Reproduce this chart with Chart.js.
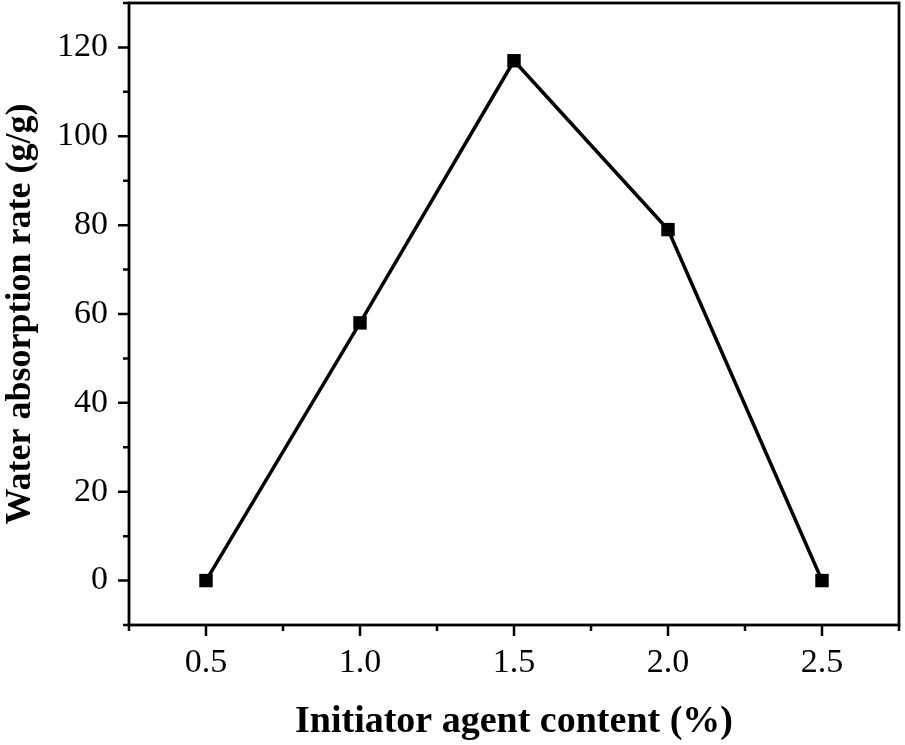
<!DOCTYPE html>
<html>
<head>
<meta charset="utf-8">
<script src="https://cdn.jsdelivr.net/npm/chart.js@4/dist/chart.umd.min.js"></script>
<style>
  body { margin: 0; background: #fff; }
  canvas { display: block; }
</style>
</head>
<body>
<canvas id="absorptionChart" width="905" height="745"></canvas>
<script>
/* data */
const initiatorContent = [0.5, 1.0, 1.5, 2.0, 2.5]
const waterAbsorption = [0, 58, 117, 79, 0]

/* axis ticks */
const xMajorTicks = [0.5, 1.0, 1.5, 2.0, 2.5]
const xMinorTicks = [0.25, 0.75, 1.25, 1.75, 2.25, 2.75]
const yMajorTicks = [0, 20, 40, 60, 80, 100, 120]
const yMinorTicks = [-10, 10, 30, 50, 70, 90, 110, 130]

const serif = 'Liberation Serif'

// frame + outward tick marks, drawn from the scales
const framePlugin = {
    id: 'frame',
    afterDraw: function(chart) {
        const ctx = chart.ctx
        const area = chart.chartArea
        const xs = chart.scales.x
        const ys = chart.scales.y
        ctx.save()
        ctx.strokeStyle = '#000'
        ctx.lineWidth = 2.8
        ctx.strokeRect(area.left, area.top, area.right - area.left, area.bottom - area.top)
        ctx.beginPath()
        ctx.lineWidth = 2.5
        xMajorTicks.forEach(function(v) {
            let px = xs.getPixelForValue(v)
            ctx.moveTo(px, area.bottom)
            ctx.lineTo(px, area.bottom + 11)
        })
        xMinorTicks.forEach(function(v) {
            let px = xs.getPixelForValue(v)
            ctx.moveTo(px, area.bottom)
            ctx.lineTo(px, area.bottom + 6)
        })
        yMajorTicks.forEach(function(v) {
            let py = ys.getPixelForValue(v)
            ctx.moveTo(area.left, py)
            ctx.lineTo(area.left - 11, py)
        })
        yMinorTicks.forEach(function(v) {
            let py = ys.getPixelForValue(v)
            ctx.moveTo(area.left, py)
            ctx.lineTo(area.left - 6, py)
        })
        ctx.stroke()
        ctx.restore()
    }
}

function noPadding(scale) {
    scale.paddingTop = 0
    scale.paddingBottom = 0
    scale.paddingLeft = 0
    scale.paddingRight = 0
}

const ctx = document.getElementById('absorptionChart').getContext('2d')
const myChart = new Chart(ctx, {
    type: 'line',
    data: {
        datasets: [{
            data: initiatorContent.map(function(x, i) { return {x: x, y: waterAbsorption[i]} }),
            borderColor: '#000',
            borderWidth: 3.5,
            backgroundColor: '#000',
            pointStyle: 'rect',
            pointRadius: 9.5,
            pointBorderWidth: 0,
            pointBackgroundColor: '#000',
            tension: 0
        }]
    },
    options: {
        responsive: false,
        animation: false,
        devicePixelRatio: 1,
        layout: { autoPadding: false, padding: { left: 0, right: 6, top: 3, bottom: 0 } },
        plugins: {
            legend: { display: false },
            tooltip: { enabled: false }
        },
        scales: {
            x: {
                type: 'linear',
                min: 0.25,
                max: 2.75,
                afterBuildTicks: function(scale) {
                    scale.ticks = xMajorTicks.map(function(v) { return {value: v} })
                },
                afterFit: function(scale) { scale.height = 120; noPadding(scale) },
                grid: { display: false, drawTicks: false },
                border: { display: false },
                ticks: {
                    color: '#000',
                    padding: 18,
                    maxRotation: 0,
                    font: { family: serif, size: 34 },
                    callback: function(v) { return Number(v).toFixed(1) }
                },
                title: {
                    display: true,
                    text: 'Initiator agent content (%)',
                    color: '#000',
                    padding: 0,
                    font: { family: serif, size: 38, weight: 'bold', lineHeight: 1.2 }
                }
            },
            y: {
                type: 'linear',
                min: -10,
                max: 130,
                afterBuildTicks: function(scale) {
                    scale.ticks = yMajorTicks.map(function(v) { return {value: v} })
                },
                afterFit: function(scale) { scale.width = 129; noPadding(scale) },
                grid: { display: false, drawTicks: false },
                border: { display: false },
                ticks: {
                    color: '#000',
                    padding: 21,
                    font: { family: serif, size: 34 }
                },
                title: {
                    display: true,
                    text: 'Water absorption rate (g/g)',
                    color: '#000',
                    padding: 0,
                    font: { family: serif, size: 36, weight: 'bold', lineHeight: 1.17 }
                }
            }
        }
    },
    plugins: [framePlugin]
})
</script>
</body>
</html>
